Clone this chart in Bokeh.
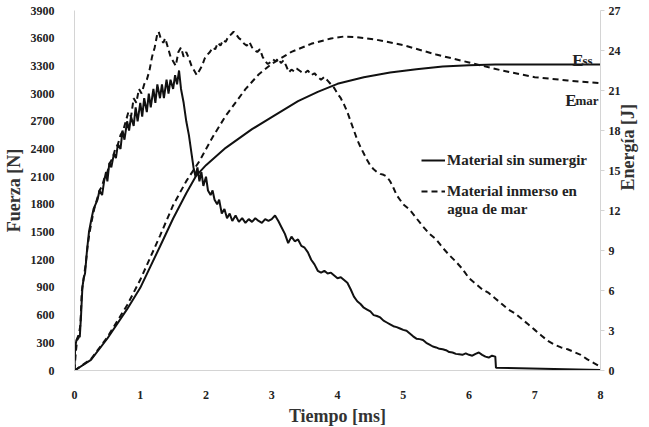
import math
from bokeh.plotting import figure
from bokeh.models import Range1d, LinearAxis, FixedTicker, Legend, LegendItem, Label
from bokeh.embed import file_html
from bokeh.resources import INLINE

# ---- data ----
t_f_sin = [0.00,0.01,0.03,0.06,0.08,0.10,0.12,0.14,0.16,0.19,0.22,0.26,0.29,0.32,0.35,0.38,0.42,0.45,0.48,0.50,
           0.53,0.56,0.60,0.63,0.66,0.70,0.73,0.76,0.80,0.83,0.86,0.90,0.93,0.96,1.00,1.03,1.06,1.10,1.13,1.16,
           1.20,1.23,1.26,1.30,1.33,1.36,1.40,1.43,1.46,1.50,1.53,1.56,1.59,1.62,1.66,1.70,1.74,1.78,1.81,1.84,
           1.87,1.90,1.93,1.96,2.00,2.03,2.07,2.10,2.13,2.17,2.20,2.24,2.28,2.32,2.36,2.40,2.45,2.50,2.55,2.60,
           2.65,2.70,2.75,2.80,2.85,2.90,2.95,3.00,3.05,3.10,3.15,3.20,3.25,3.30,3.35,3.40,3.45,3.50,3.55,3.60,
           3.65,3.70,3.75,3.80,3.85,3.90,3.95,4.00,4.05,4.10,4.15,4.20,4.25,4.30,4.35,4.40,4.45,4.50,4.55,4.60,
           4.65,4.70,4.75,4.80,4.85,4.90,4.95,5.00,5.05,5.10,5.15,5.20,5.25,5.30,5.35,5.40,5.45,5.50,5.55,5.60,
           5.65,5.70,5.75,5.80,5.85,5.90,5.95,6.00,6.05,6.10,6.15,6.20,6.25,6.30,6.35,6.40,6.41,8.00]
f_sin = [0,250,330,380,360,600,900,1000,1050,1300,1500,1650,1750,1800,1850,1950,1900,2050,2150,2050,
         2250,2200,2350,2300,2450,2400,2600,2500,2700,2600,2750,2650,2850,2700,2900,2750,2950,2800,3000,2850,
         3050,2900,3100,2950,3100,2950,3150,3000,3150,3050,3200,3100,3250,3050,2900,2700,2550,2350,2200,2100,
         2200,2050,2150,2000,2100,1950,1900,1950,1850,1800,1850,1700,1750,1650,1700,1620,1680,1610,1650,1600,
         1640,1610,1650,1620,1600,1640,1620,1640,1680,1620,1550,1480,1380,1450,1400,1420,1350,1330,1280,1200,
         1150,1080,1060,1080,1050,1060,1030,1000,1010,980,950,880,800,750,720,680,660,640,600,590,
         575,540,520,500,480,470,455,440,430,400,370,345,340,330,300,280,260,250,235,230,
         220,200,195,180,175,170,185,170,160,180,195,170,150,140,160,150,30,5]

t_f_mar = [0.00,0.02,0.04,0.06,0.09,0.11,0.14,0.17,0.20,0.23,0.27,0.30,0.34,0.38,0.42,0.46,0.50,0.54,0.58,0.62,
           0.66,0.70,0.74,0.78,0.82,0.86,0.90,0.94,0.98,1.02,1.06,1.10,1.14,1.18,1.22,1.26,1.28,1.31,1.35,1.38,
           1.42,1.46,1.50,1.54,1.58,1.62,1.66,1.70,1.74,1.78,1.82,1.86,1.90,1.94,1.98,2.02,2.06,2.10,2.14,2.18,
           2.22,2.26,2.30,2.34,2.38,2.42,2.46,2.50,2.54,2.58,2.62,2.66,2.70,2.74,2.78,2.82,2.86,2.90,2.94,2.98,
           3.02,3.06,3.10,3.14,3.18,3.22,3.26,3.30,3.34,3.38,3.42,3.46,3.50,3.55,3.60,3.65,3.70,3.75,3.80,3.85,
           3.90,3.95,4.00,4.05,4.10,4.15,4.20,4.25,4.30,4.35,4.40,4.45,4.50,4.55,4.60,4.65,4.70,4.75,4.80,4.85,
           4.90,4.95,5.00,5.10,5.20,5.30,5.40,5.50,5.60,5.70,5.80,5.90,6.00,6.10,6.20,6.30,6.40,6.50,6.60,6.70,
           6.80,6.90,7.00,7.10,7.20,7.30,7.40,7.50,7.60,7.70,7.80,7.90,8.00]
f_mar = [0,200,330,350,500,850,1000,1150,1350,1500,1650,1750,1850,1950,2000,2100,2150,2250,2300,2400,
         2450,2550,2600,2700,2800,2750,2950,2900,3050,3000,3100,3150,3250,3400,3500,3650,3670,3600,3550,3600,
         3500,3400,3350,3300,3450,3500,3400,3450,3380,3300,3250,3200,3250,3300,3380,3420,3450,3500,3480,3550,
         3520,3580,3560,3620,3640,3670,3640,3600,3580,3540,3520,3560,3500,3470,3450,3480,3400,3350,3320,3340,
         3370,3350,3380,3330,3360,3300,3230,3260,3240,3270,3250,3230,3220,3250,3200,3220,3180,3150,3180,3140,
         3100,3060,3000,2950,2880,2800,2700,2600,2500,2420,2350,2280,2220,2180,2150,2130,2120,2100,2050,1980,
         1900,1850,1800,1740,1650,1560,1480,1420,1330,1250,1180,1100,1000,940,880,840,780,720,660,620,
         560,500,440,380,320,280,250,230,200,170,120,80,40]

t_e_sin = [0,0.25,0.5,0.8,1.0,1.3,1.5,1.7,1.85,2.0,2.3,2.7,3.0,3.4,3.7,4.0,4.4,4.8,5.2,5.6,6.0,6.4,7.0,8.0]
e_sin = [0,0.8,2.4,4.6,6.2,9.3,11.4,13.3,14.6,15.4,16.7,18.1,19.0,20.2,20.9,21.5,22.0,22.35,22.6,22.8,22.9,22.95,22.95,22.95]

t_e_mar = [0,0.25,0.5,0.8,1.0,1.3,1.5,1.7,1.9,2.1,2.3,2.6,2.8,3.0,3.3,3.6,3.9,4.1,4.3,4.6,5.0,5.5,6.0,6.5,7.0,7.5,8.0]
e_mar = [0,0.85,2.5,4.9,6.8,10.1,12.4,14.2,15.7,17.5,19.1,21.1,22.2,23.0,23.9,24.5,24.9,25.05,25.0,24.8,24.4,23.7,23.1,22.5,22.0,21.75,21.55]

force_ticks = list(range(0, 3901, 300))
energy_ticks = list(range(0, 28, 3))
time_ticks = list(range(0, 9))

FONT = "Liberation Serif"
GRAY = "#d4d4d4"
INK = "#111111"

p = figure(frame_width=526, frame_height=360, output_backend="svg", toolbar_location=None,
           x_range=Range1d(0, 8), y_range=Range1d(0, 3900),
           min_border_left=10, min_border_right=10, min_border_top=10, min_border_bottom=10)
p.outline_line_color = None
p.grid.visible = False
p.extra_y_ranges = {"energy": Range1d(0, 27)}

def style_axis(ax, ticks, label):
    ax.ticker = FixedTicker(ticks=ticks)
    ax.axis_label = label
    ax.axis_label_text_font = FONT
    ax.axis_label_text_font_style = "bold"
    ax.axis_label_text_font_size = "18px"
    ax.axis_label_text_color = "#333333"
    ax.major_label_text_font = FONT
    ax.major_label_text_font_style = "bold"
    ax.major_label_text_font_size = "12px"
    ax.major_label_text_color = "#222222"
    ax.axis_line_color = GRAY
    ax.major_tick_line_color = None
    ax.minor_tick_line_color = None

style_axis(p.xaxis[0], time_ticks, "Tiempo [ms]")
style_axis(p.yaxis[0], force_ticks, "Fuerza [N]")
p.xaxis[0].major_label_standoff = 14
p.xaxis[0].axis_label_standoff = 4
p.yaxis[0].major_label_standoff = 14
p.yaxis[0].axis_label_standoff = 4

ax_r = LinearAxis(y_range_name="energy")
style_axis(ax_r, energy_ticks, "Energía [J]")
ax_r.major_tick_line_color = GRAY
ax_r.major_tick_out = 4
ax_r.major_tick_in = 0
ax_r.major_label_standoff = 4
ax_r.axis_label_standoff = 4
ax_r.axis_label_orientation = math.pi / 2
p.add_layout(ax_r, "right")

r_fs = p.line(t_f_sin, f_sin, line_color=INK, line_width=2)
r_fm = p.line(t_f_mar, f_mar, line_color=INK, line_width=2, line_dash="6 4")
p.line(t_e_sin, e_sin, line_color=INK, line_width=2, y_range_name="energy")
p.line(t_e_mar, e_mar, line_color=INK, line_width=2, line_dash="6 4", y_range_name="energy")

legend = Legend(items=[LegendItem(label="Material sin sumergir", renderers=[r_fs]),
                       LegendItem(label="Material inmerso en", renderers=[r_fm])],
                location=(347, 169), orientation="vertical",
                label_text_font=FONT, label_text_font_style="bold", label_text_font_size="15px",
                label_text_color="#222222", glyph_width=24, glyph_height=20, label_height=20,
                border_line_color=None, background_fill_alpha=0, padding=0, spacing=11,
                label_standoff=2, margin=0)
p.add_layout(legend)
p.add_layout(Label(x=5.67, y=1750, text="agua de mar", text_font=FONT, text_font_style="bold",
                   text_font_size="15px", text_color="#222222", text_baseline="alphabetic"))

for txt, size, x, y, xo in [("ss", "13px", 7.88, 23.25, 0), ("E", "17px", 7.88, 23.25, -9),
                            ("mar", "13px", 7.97, 20.25, 0), ("E", "17px", 7.97, 20.25, -22)]:
    p.add_layout(Label(x=x, y=y, y_range_name="energy", text=txt, x_offset=xo,
                       text_font=FONT, text_font_style="bold", text_font_size=size,
                       text_color="#222222", text_align="right", text_baseline="alphabetic"))

open("out.html", "w").write(file_html(p, INLINE))
